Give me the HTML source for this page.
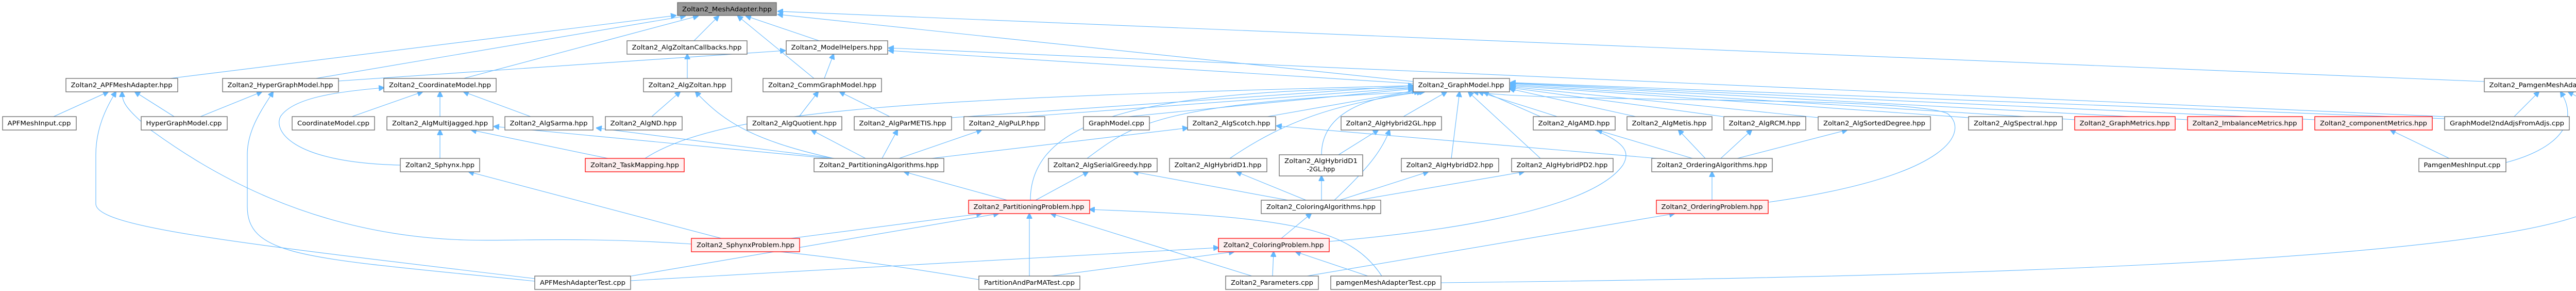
<!DOCTYPE html>
<html><head><meta charset="utf-8"><style>
html,body{margin:0;padding:0;background:#fff;}
svg{display:block;}
.n rect{fill:#fff;stroke:#666;stroke-width:1.3;}
.r rect{fill:#fff0f0;stroke:#f00;stroke-width:1.3;}
.g rect{fill:#999;stroke:#666;stroke-width:1.3;}
text{font-family:"DejaVu Sans","Liberation Sans",sans-serif;font-size:12px;fill:#000;text-anchor:middle;}
path{fill:none;stroke:#63b8ff;stroke-width:1.1;}
</style></head><body>
<svg width="5081" height="564" viewBox="0 0 5081 564" xmlns="http://www.w3.org/2000/svg">
<defs><marker id="a" viewBox="0 0 10 10" refX="9" refY="5" markerWidth="11" markerHeight="11" markerUnits="userSpaceOnUse" orient="auto"><path d="M0,0 L10,5 L0,10 z" style="fill:#63b8ff;stroke:#63b8ff"/></marker></defs>
<g marker-end="url(#a)">
<path d="M330,152 L1312,30"/>
<path d="M613,152 L1330,31"/>
<path d="M900,152 L1355,31"/>
<path d="M657,157 L1524,98"/>
<path d="M1347,79 L1395,31"/>
<path d="M1590,79 L1448,31"/>
<path d="M1580,152 L1432,31"/>
<path d="M2743,158 L1510,28"/>
<path d="M4822,158 L1510,22"/>
<path d="M1600,152 L1618,105"/>
<path d="M2743,162 L1725,98"/>
<path d="M4745,226 L1725,93"/>
<path d="M1334,152 L1334,105"/>
<path d="M1265,226 L1320,178"/>
<path d="M1618,307 C1450,270 1400,230 1350,178"/>
<path d="M1551,226 L1588,178"/>
<path d="M1727,226 L1630,178"/>
<path d="M104,226 L210,178"/>
<path d="M338,226 L262,178"/>
<path d="M389,226 L508,178"/>
<path d="M1038,540 C450,470 186,440 186,395 L186,300 C186,250 205,210 225,178"/>
<path d="M1900,542 C1300,440 1050,470 900,465 C600,455 400,330 290,250 C245,210 237,200 237,178"/>
<path d="M1038,545 C600,500 480,500 480,400 L480,300 C480,250 510,210 530,178"/>
<path d="M683,226 L820,178"/>
<path d="M854,226 L854,178"/>
<path d="M1030,226 L900,178"/>
<path d="M777,320 C560,315 530,250 545,225 C570,190 650,178 745,170"/>
<path d="M854,307 L854,252"/>
<path d="M1400,462 L910,333"/>
<path d="M1180,307 L915,252"/>
<path d="M1610,307 L959,245"/>
<path d="M1620,307 L1158,248"/>
<path d="M1252,307 C1400,210 1800,190 2743,166"/>
<path d="M1680,307 L1575,252"/>
<path d="M1712,307 L1742,252"/>
<path d="M1745,307 L1905,252"/>
<path d="M1808,307 L2305,248"/>
<path d="M1955,388 L1755,333"/>
<path d="M1535,462 L1905,414"/>
<path d="M1225,535 L1938,414"/>
<path d="M1998,535 L1998,414"/>
<path d="M1224,544 L2365,480"/>
<path d="M2000,388 C2000,220 2250,175 2743,170"/>
<path d="M1847,228 L2743,166"/>
<path d="M2010,388 L2112,333"/>
<path d="M1990,226 L2743,170"/>
<path d="M2190,226 L2743,172"/>
<path d="M2460,226 L2750,175"/>
<path d="M2110,307 C2200,240 2250,200 2755,178"/>
<path d="M2387,307 C2500,230 2600,200 2760,178"/>
<path d="M2724,226 L2808,178"/>
<path d="M2565,300 C2565,220 2650,185 2765,178"/>
<path d="M2817,307 L2833,178"/>
<path d="M2990,307 L2850,178"/>
<path d="M2990,226 L2880,178"/>
<path d="M3175,226 L2930,172"/>
<path d="M3345,226 L2932,170"/>
<path d="M3530,228 L2932,168"/>
<path d="M3821,228 L2932,166"/>
<path d="M4027,232 L2932,164"/>
<path d="M4246,232 L2932,162"/>
<path d="M4493,232 L2932,161"/>
<path d="M4745,230 L2932,160"/>
<path d="M3432,392 C3800,340 3820,250 3780,220 C3700,185 3000,200 2860,178"/>
<path d="M2580,468 C2900,440 3100,390 3150,320 C3180,270 3100,250 2870,178"/>
<path d="M2598,300 L2675,252"/>
<path d="M2500,388 L2200,333"/>
<path d="M2535,388 L2400,333"/>
<path d="M2565,388 L2565,341"/>
<path d="M2590,388 C2640,340 2680,300 2697,252"/>
<path d="M2600,388 L2772,333"/>
<path d="M2635,388 L2958,333"/>
<path d="M2487,462 L2545,414"/>
<path d="M2470,535 L2472,488"/>
<path d="M2655,535 L2515,488"/>
<path d="M2040,535 L2395,488"/>
<path d="M2430,535 L2040,414"/>
<path d="M2682,535 C2620,440 2500,420 2115,406"/>
<path d="M2537,535 L3250,414"/>
<path d="M3285,307 L3100,252"/>
<path d="M3310,307 L3258,252"/>
<path d="M3340,307 L3400,252"/>
<path d="M3372,307 L3585,252"/>
<path d="M3323,388 L3323,333"/>
<path d="M3216,307 L2478,244"/>
<path d="M2797,548 C3500,540 4700,520 5000,420 C5070,395 5075,360 5075,300 C5075,230 5010,190 4985,178"/>
<path d="M4754,307 L4640,252"/>
<path d="M4864,315 C4960,290 5010,240 4970,178"/>
<path d="M4880,226 L4928,178"/>
</g>

<g class="g"><rect x="1315" y="5" width="192" height="25"/><text x="1411" y="22" textLength="174" lengthAdjust="spacingAndGlyphs">Zoltan2_MeshAdapter.hpp</text></g>

<g class="n"><rect x="1217" y="79" width="233" height="26"/><text x="1333" y="96" textLength="213" lengthAdjust="spacingAndGlyphs">Zoltan2_AlgZoltanCallbacks.hpp</text></g>
<g class="n"><rect x="1526" y="79" width="197" height="26"/><text x="1624" y="96" textLength="177" lengthAdjust="spacingAndGlyphs">Zoltan2_ModelHelpers.hpp</text></g>

<g class="n"><rect x="128" y="152" width="217" height="26"/><text x="236" y="169" textLength="197" lengthAdjust="spacingAndGlyphs">Zoltan2_APFMeshAdapter.hpp</text></g>
<g class="n"><rect x="432" y="152" width="225" height="26"/><text x="544" y="169" textLength="205" lengthAdjust="spacingAndGlyphs">Zoltan2_HyperGraphModel.hpp</text></g>
<g class="n"><rect x="745" y="152" width="218" height="26"/><text x="854" y="169" textLength="198" lengthAdjust="spacingAndGlyphs">Zoltan2_CoordinateModel.hpp</text></g>
<g class="n"><rect x="1249" y="152" width="171" height="26"/><text x="1334" y="169" textLength="151" lengthAdjust="spacingAndGlyphs">Zoltan2_AlgZoltan.hpp</text></g>
<g class="n"><rect x="1481" y="152" width="230" height="26"/><text x="1596" y="169" textLength="210" lengthAdjust="spacingAndGlyphs">Zoltan2_CommGraphModel.hpp</text></g>
<g class="n"><rect x="2743" y="152" width="187" height="26"/><text x="2836" y="169" textLength="167" lengthAdjust="spacingAndGlyphs">Zoltan2_GraphModel.hpp</text></g>
<g class="n"><rect x="4822" y="152" width="245" height="26"/><text x="4944" y="169" textLength="225" lengthAdjust="spacingAndGlyphs">Zoltan2_PamgenMeshAdapter.hpp</text></g>

<g class="n"><rect x="5" y="226" width="143" height="26"/><text x="76" y="243" textLength="123" lengthAdjust="spacingAndGlyphs">APFMeshInput.cpp</text></g>
<g class="n"><rect x="274" y="226" width="167" height="26"/><text x="357" y="243" textLength="147" lengthAdjust="spacingAndGlyphs">HyperGraphModel.cpp</text></g>
<g class="n"><rect x="567" y="226" width="160" height="26"/><text x="647" y="243" textLength="140" lengthAdjust="spacingAndGlyphs">CoordinateModel.cpp</text></g>
<g class="n"><rect x="751" y="226" width="206" height="26"/><text x="854" y="243" textLength="186" lengthAdjust="spacingAndGlyphs">Zoltan2_AlgMultiJagged.hpp</text></g>
<g class="n"><rect x="980" y="226" width="171" height="26"/><text x="1065" y="243" textLength="151" lengthAdjust="spacingAndGlyphs">Zoltan2_AlgSarma.hpp</text></g>
<g class="n"><rect x="1175" y="226" width="149" height="26"/><text x="1249" y="243" textLength="129" lengthAdjust="spacingAndGlyphs">Zoltan2_AlgND.hpp</text></g>
<g class="n"><rect x="1450" y="226" width="184" height="26"/><text x="1542" y="243" textLength="164" lengthAdjust="spacingAndGlyphs">Zoltan2_AlgQuotient.hpp</text></g>
<g class="n"><rect x="1658" y="226" width="189" height="26"/><text x="1752" y="243" textLength="169" lengthAdjust="spacingAndGlyphs">Zoltan2_AlgParMETIS.hpp</text></g>
<g class="n"><rect x="1871" y="226" width="157" height="26"/><text x="1949" y="243" textLength="137" lengthAdjust="spacingAndGlyphs">Zoltan2_AlgPuLP.hpp</text></g>
<g class="n"><rect x="2103" y="226" width="128" height="26"/><text x="2167" y="243" textLength="108" lengthAdjust="spacingAndGlyphs">GraphModel.cpp</text></g>
<g class="n"><rect x="2305" y="226" width="171" height="26"/><text x="2390" y="243" textLength="151" lengthAdjust="spacingAndGlyphs">Zoltan2_AlgScotch.hpp</text></g>
<g class="n"><rect x="2603" y="226" width="195" height="26"/><text x="2700" y="243" textLength="175" lengthAdjust="spacingAndGlyphs">Zoltan2_AlgHybrid2GL.hpp</text></g>
<g class="n"><rect x="2976" y="226" width="159" height="26"/><text x="3055" y="243" textLength="139" lengthAdjust="spacingAndGlyphs">Zoltan2_AlgAMD.hpp</text></g>
<g class="n"><rect x="3158" y="226" width="165" height="26"/><text x="3240" y="243" textLength="145" lengthAdjust="spacingAndGlyphs">Zoltan2_AlgMetis.hpp</text></g>
<g class="n"><rect x="3346" y="226" width="159" height="26"/><text x="3425" y="243" textLength="139" lengthAdjust="spacingAndGlyphs">Zoltan2_AlgRCM.hpp</text></g>
<g class="n"><rect x="3529" y="226" width="218" height="26"/><text x="3638" y="243" textLength="198" lengthAdjust="spacingAndGlyphs">Zoltan2_AlgSortedDegree.hpp</text></g>
<g class="n"><rect x="3821" y="226" width="182" height="26"/><text x="3912" y="243" textLength="162" lengthAdjust="spacingAndGlyphs">Zoltan2_AlgSpectral.hpp</text></g>
<g class="r"><rect x="4027" y="226" width="195" height="26"/><text x="4124" y="243" textLength="175" lengthAdjust="spacingAndGlyphs">Zoltan2_GraphMetrics.hpp</text></g>
<g class="r"><rect x="4246" y="226" width="223" height="26"/><text x="4357" y="243" textLength="203" lengthAdjust="spacingAndGlyphs">Zoltan2_ImbalanceMetrics.hpp</text></g>
<g class="r"><rect x="4493" y="226" width="228" height="26"/><text x="4607" y="243" textLength="208" lengthAdjust="spacingAndGlyphs">Zoltan2_componentMetrics.hpp</text></g>
<g class="n"><rect x="4745" y="226" width="242" height="26"/><text x="4866" y="243" textLength="222" lengthAdjust="spacingAndGlyphs">GraphModel2ndAdjsFromAdjs.cpp</text></g>

<g class="n"><rect x="777" y="307" width="154" height="26"/><text x="854" y="324" textLength="134" lengthAdjust="spacingAndGlyphs">Zoltan2_Sphynx.hpp</text></g>
<g class="r"><rect x="1136" y="307" width="192" height="26"/><text x="1232" y="324" textLength="172" lengthAdjust="spacingAndGlyphs">Zoltan2_TaskMapping.hpp</text></g>
<g class="n"><rect x="1580" y="307" width="252" height="26"/><text x="1706" y="324" textLength="232" lengthAdjust="spacingAndGlyphs">Zoltan2_PartitioningAlgorithms.hpp</text></g>
<g class="n"><rect x="2035" y="307" width="211" height="26"/><text x="2140" y="324" textLength="191" lengthAdjust="spacingAndGlyphs">Zoltan2_AlgSerialGreedy.hpp</text></g>
<g class="n"><rect x="2270" y="307" width="189" height="26"/><text x="2364" y="324" textLength="169" lengthAdjust="spacingAndGlyphs">Zoltan2_AlgHybridD1.hpp</text></g>
<g class="n"><rect x="2483" y="300" width="162" height="41"/><text x="2564" y="316" textLength="142" lengthAdjust="spacingAndGlyphs">Zoltan2_AlgHybridD1</text><text x="2564" y="332">-2GL.hpp</text></g>
<g class="n"><rect x="2720" y="307" width="189" height="26"/><text x="2814" y="324" textLength="169" lengthAdjust="spacingAndGlyphs">Zoltan2_AlgHybridD2.hpp</text></g>
<g class="n"><rect x="2934" y="307" width="197" height="26"/><text x="3032" y="324" textLength="177" lengthAdjust="spacingAndGlyphs">Zoltan2_AlgHybridPD2.hpp</text></g>
<g class="n"><rect x="3206" y="307" width="234" height="26"/><text x="3323" y="324" textLength="214" lengthAdjust="spacingAndGlyphs">Zoltan2_OrderingAlgorithms.hpp</text></g>
<g class="n"><rect x="4695" y="307" width="169" height="26"/><text x="4779" y="324" textLength="149" lengthAdjust="spacingAndGlyphs">PamgenMeshInput.cpp</text></g>

<g class="r"><rect x="1880" y="388" width="235" height="26"/><text x="1997" y="405" textLength="215" lengthAdjust="spacingAndGlyphs">Zoltan2_PartitioningProblem.hpp</text></g>
<g class="n"><rect x="2448" y="388" width="232" height="26"/><text x="2564" y="405" textLength="212" lengthAdjust="spacingAndGlyphs">Zoltan2_ColoringAlgorithms.hpp</text></g>
<g class="r"><rect x="3215" y="388" width="217" height="26"/><text x="3323" y="405" textLength="197" lengthAdjust="spacingAndGlyphs">Zoltan2_OrderingProblem.hpp</text></g>

<g class="r"><rect x="1342" y="462" width="210" height="26"/><text x="1447" y="479" textLength="190" lengthAdjust="spacingAndGlyphs">Zoltan2_SphynxProblem.hpp</text></g>
<g class="r"><rect x="2365" y="462" width="215" height="26"/><text x="2472" y="479" textLength="195" lengthAdjust="spacingAndGlyphs">Zoltan2_ColoringProblem.hpp</text></g>

<g class="n"><rect x="1038" y="535" width="186" height="26"/><text x="1131" y="552" textLength="166" lengthAdjust="spacingAndGlyphs">APFMeshAdapterTest.cpp</text></g>
<g class="n"><rect x="1900" y="535" width="196" height="26"/><text x="1998" y="552" textLength="176" lengthAdjust="spacingAndGlyphs">PartitionAndParMATest.cpp</text></g>
<g class="n"><rect x="2379" y="535" width="180" height="26"/><text x="2469" y="552" textLength="160" lengthAdjust="spacingAndGlyphs">Zoltan2_Parameters.cpp</text></g>
<g class="n"><rect x="2583" y="535" width="214" height="26"/><text x="2690" y="552" textLength="194" lengthAdjust="spacingAndGlyphs">pamgenMeshAdapterTest.cpp</text></g>
</svg>
</body></html>
